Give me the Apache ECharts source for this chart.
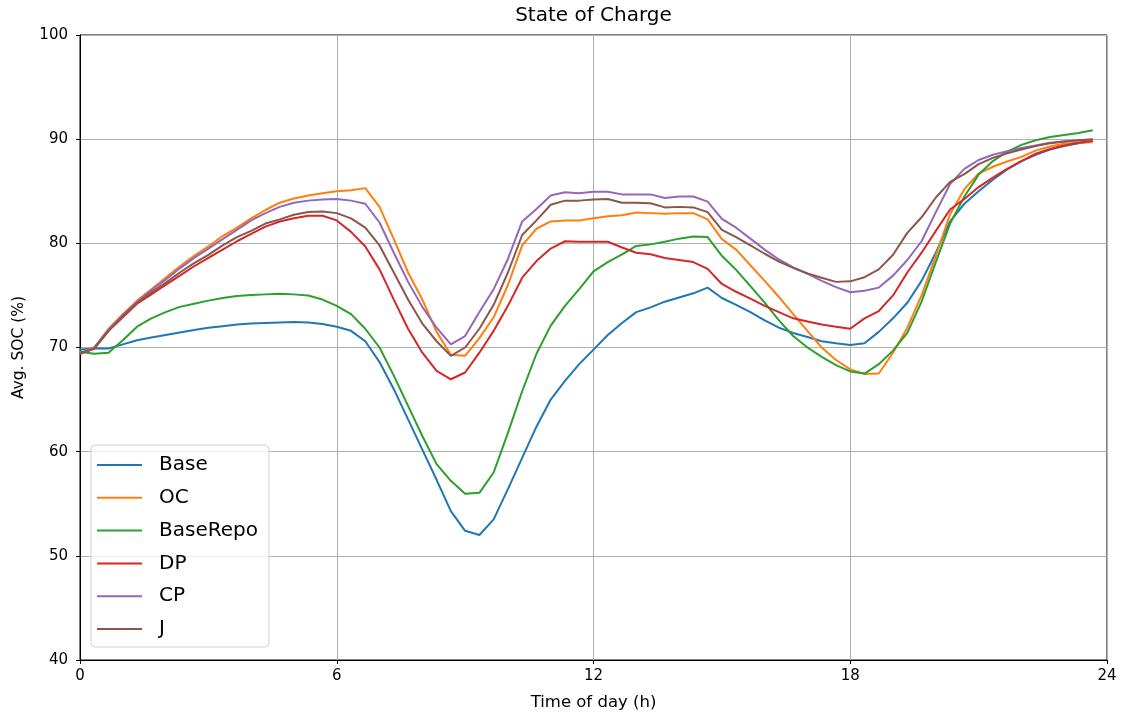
<!DOCTYPE html>
<html>
<head>
<meta charset="utf-8">
<title>State of Charge</title>
<script src="https://cdn.jsdelivr.net/npm/echarts@6/dist/echarts.min.js"></script>
<style>
  html, body { margin: 0; padding: 0; background: #ffffff; }
  #chart { width: 1122px; height: 717px; }
</style>
</head>
<body>
<div id="chart"></div>
<script>
// Average state of charge (%) sampled every 20 minutes over one day
const hours = Array.from({ length: 72 }, (_, i) => i / 3);
const xTicks = [0, 6, 12, 18, 24];

const seriesNames = ['Base', 'OC', 'BaseRepo', 'DP', 'CP', 'J'];

const base = [
  69.8, 69.9, 69.9, 70.3, 70.7, 70.95, 71.2, 71.45, 71.67, 71.9, 72.05, 72.2,
  72.3, 72.35, 72.4, 72.45, 72.4, 72.25, 72.0, 71.6, 70.6, 68.6, 66.0, 63.1,
  60.2, 57.3, 54.3, 52.4, 52.0, 53.5, 56.4, 59.4, 62.4, 65.0, 66.8, 68.4,
  69.8, 71.2, 72.35, 73.4, 73.85, 74.4, 74.8, 75.2, 75.75, 74.75, 74.1, 73.4,
  72.6, 71.9, 71.4, 71.0, 70.6, 70.4, 70.25, 70.4, 71.5, 72.8, 74.3, 76.4,
  79.1, 82.1, 83.8, 85.0, 86.1, 87.1, 87.9, 88.5, 89.0, 89.35, 89.6, 89.8
];

const oc = [
  69.5, 70.0, 71.8, 73.2, 74.5, 75.6, 76.7, 77.8, 78.8, 79.7, 80.7, 81.5,
  82.4, 83.2, 83.9, 84.3, 84.6, 84.8, 85.0, 85.1, 85.3, 83.5, 80.4, 77.2,
  74.6, 71.5, 69.3, 69.2, 70.9, 72.9, 76.0, 79.8, 81.4, 82.1, 82.2, 82.2,
  82.4, 82.6, 82.7, 82.95, 82.9, 82.85, 82.9, 82.9, 82.3, 80.4, 79.4, 77.9,
  76.4, 74.85, 73.2, 71.6, 70.0, 68.8, 67.9, 67.45, 67.5, 69.5, 71.9, 75.0,
  78.8, 82.8, 85.2, 86.7, 87.35, 87.85, 88.3, 88.9, 89.3, 89.55, 89.65, 89.7
];

const baseRepo = [
  69.6, 69.4, 69.5, 70.7, 72.0, 72.8, 73.4, 73.9, 74.2, 74.5, 74.75, 74.95,
  75.05, 75.1, 75.15, 75.1, 75.0, 74.6, 74.0, 73.2, 71.8, 70.0, 67.3, 64.4,
  61.5, 58.8, 57.2, 55.95, 56.05, 58.0, 61.8, 65.8, 69.4, 72.1, 74.0, 75.6,
  77.3, 78.2, 78.95, 79.75, 79.9, 80.15, 80.45, 80.65, 80.6, 78.8, 77.45, 75.9,
  74.3, 72.6, 71.1, 70.0, 69.1, 68.3, 67.7, 67.5, 68.4, 69.7, 71.4, 74.4,
  78.2, 81.9, 84.5, 86.6, 87.9, 88.8, 89.45, 89.9, 90.2, 90.4, 90.6, 90.85
];

const dp = [
  69.4, 69.9, 71.6, 72.9, 74.2, 75.1, 76.0, 76.9, 77.8, 78.6, 79.4, 80.2,
  80.9, 81.6, 82.1, 82.4, 82.65, 82.65, 82.2, 81.1, 79.7, 77.5, 74.6, 71.8,
  69.5, 67.75, 66.95, 67.6, 69.5, 71.6, 74.0, 76.7, 78.3, 79.5, 80.2, 80.15,
  80.15, 80.15, 79.6, 79.1, 78.95, 78.6, 78.4, 78.2, 77.55, 76.1, 75.35, 74.7,
  74.0, 73.4, 72.8, 72.5, 72.2, 72.0, 71.8, 72.8, 73.5, 75.0, 77.2, 79.1,
  81.2, 83.25, 84.25, 85.4, 86.3, 87.15, 87.9, 88.6, 89.05, 89.4, 89.65, 89.85
];

const cp = [
  69.4, 70.0, 71.7, 73.1, 74.4, 75.5, 76.5, 77.6, 78.6, 79.5, 80.4, 81.3,
  82.2, 82.9, 83.5, 83.9, 84.1, 84.2, 84.25, 84.1, 83.8, 82.0, 79.1, 76.3,
  73.9, 71.9, 70.3, 71.1, 73.4, 75.6, 78.5, 82.1, 83.3, 84.6, 84.9, 84.8,
  84.95, 84.95, 84.7, 84.7, 84.7, 84.35, 84.5, 84.5, 84.0, 82.35, 81.5, 80.45,
  79.4, 78.45, 77.7, 77.1, 76.4, 75.8, 75.3, 75.45, 75.75, 76.9, 78.4, 80.2,
  83.0, 85.7, 87.15, 88.0, 88.5, 88.85, 89.15, 89.4, 89.65, 89.8, 89.9, 89.95
];

const j = [
  69.4, 69.9, 71.6, 73.0, 74.3, 75.3, 76.2, 77.2, 78.1, 78.9, 79.8, 80.6,
  81.2, 81.9, 82.3, 82.75, 83.0, 83.05, 82.9, 82.4, 81.5, 79.8, 77.2, 74.6,
  72.3, 70.6, 69.2, 70.0, 71.8, 74.1, 77.2, 80.8, 82.2, 83.7, 84.1, 84.1,
  84.2, 84.25, 83.9, 83.9, 83.85, 83.45, 83.5, 83.45, 83.0, 81.3, 80.6, 79.8,
  79.0, 78.25, 77.65, 77.1, 76.7, 76.3, 76.35, 76.75, 77.5, 78.9, 81.0, 82.5,
  84.4, 85.9, 86.65, 87.6, 88.2, 88.65, 89.0, 89.35, 89.6, 89.75, 89.9, 90.0
];

const seriesValues = [base, oc, baseRepo, dp, cp, j];
const palette = ['#1f77b4', '#ff7f0e', '#2ca02c', '#d62728', '#9467bd', '#8c564b'];

const FONT = '"DejaVu Sans", sans-serif';

const chart = echarts.init(document.getElementById('chart'), null, { renderer: 'canvas' });

const series = seriesNames.map((name, k) => ({
  name: name,
  type: 'line',
  showSymbol: false,
  symbol: 'none',
  animation: false,
  lineStyle: { width: 2, color: palette[k] },
  itemStyle: { color: palette[k] },
  data: hours.map((h, i) => [h, seriesValues[k][i]])
}));

chart.setOption({
  animation: false,
  backgroundColor: '#ffffff',
  title: {
    text: 'State of Charge',
    left: 593.5,
    top: 6,
    textAlign: 'center',
    padding: 0,
    textStyle: { fontFamily: FONT, fontSize: 20, fontWeight: 'normal', color: '#000' }
  },
  grid: {
    left: 80, right: 15, top: 35, bottom: 57,
    show: true, borderColor: '#000', borderWidth: 1, backgroundColor: 'transparent'
  },
  legend: {
    orient: 'vertical',
    left: 91,
    top: 445,
    data: seriesNames,
    icon: 'rect',
    itemWidth: 45,
    itemHeight: 2,
    itemGap: 12.8,
    padding: [10, 11, 8, 6],
    backgroundColor: 'rgba(255,255,255,0.8)',
    borderColor: '#d0d0d0',
    borderWidth: 1,
    borderRadius: 4,
    textStyle: {
      fontFamily: FONT, fontSize: 20, color: '#000', lineHeight: 20,
      padding: [0, 0, 0, 12]
    }
  },
  xAxis: {
    type: 'value',
    min: 0, max: 24, interval: 6,
    name: 'Time of day (h)',
    nameLocation: 'middle',
    nameGap: 34,
    nameTextStyle: { fontFamily: FONT, fontSize: 16.5, color: '#000' },
    axisLine: { show: true, onZero: false, lineStyle: { color: '#000', width: 1 } },
    axisTick: { show: true, length: 4, lineStyle: { color: '#000' } },
    axisLabel: {
      fontFamily: FONT, fontSize: 15, color: '#000', margin: 9,
      formatter: v => (xTicks.indexOf(v) >= 0 ? String(v) : '')
    },
    splitLine: { show: true, lineStyle: { color: '#b0b0b0', width: 1 } }
  },
  yAxis: {
    type: 'value',
    min: 40, max: 100, interval: 10,
    name: 'Avg. SOC (%)',
    nameLocation: 'middle',
    nameGap: 53,
    nameTextStyle: { fontFamily: FONT, fontSize: 15.5, color: '#000' },
    axisLine: { show: true, onZero: false, lineStyle: { color: '#000', width: 1 } },
    axisTick: { show: true, length: 4, lineStyle: { color: '#000' } },
    axisLabel: { fontFamily: FONT, fontSize: 15, color: '#000', margin: 12 },
    splitLine: { show: true, lineStyle: { color: '#b0b0b0', width: 1 } }
  },
  series: series
});
</script>
</body>
</html>
